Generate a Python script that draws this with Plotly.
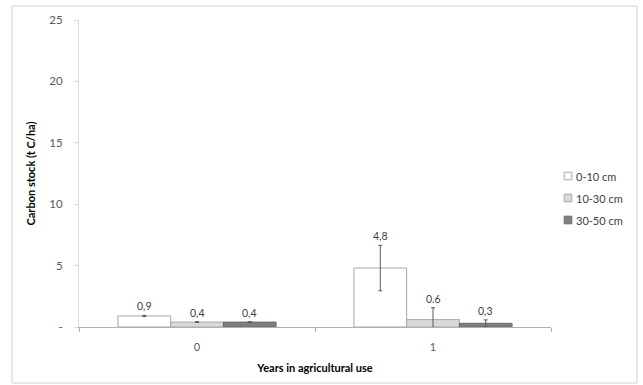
import plotly.graph_objects as go

# ---- data ----
categories = [0, 1]
category_labels = ["0", "1"]
series_names = ["0-10 cm", "10-30 cm", "30-50 cm"]
values_0_10 = [0.9, 4.8]
values_10_30 = [0.4, 0.6]
values_30_50 = [0.4, 0.3]
errors_0_10 = [0.05, 1.85]
errors_10_30 = [0.03, 0.97]
errors_30_50 = [0.03, 0.28]
labels_0_10 = ["0,9", "4,8"]
labels_10_30 = ["0,4", "0.6"]
labels_30_50 = ["0,4", "0,3"]
y_tick_values = [0, 5, 10, 15, 20, 25]
y_tick_labels = ["-", "5", "10", "15", "20", "25"]

values = [values_0_10, values_10_30, values_30_50]
errors = [errors_0_10, errors_10_30, errors_30_50]
labels = [labels_0_10, labels_10_30, labels_30_50]

FONT = "Lato, 'Open Sans', sans-serif"
fills = ["#ffffff", "#d9d9d9", "#7f7f7f"]
outlines = ["#a6a6a6", "#a6a6a6", "#6a6a6a"]
BARGAP = 0.33

fig = go.Figure()
for i, name in enumerate(series_names):
    fig.add_trace(go.Bar(
        x=categories, y=values[i], name=name, showlegend=False,
        marker=dict(color=fills[i], line=dict(color=outlines[i], width=1)),
        error_y=dict(type="data", array=errors[i], color="#595959",
                     thickness=1, width=2),
    ))

# data labels above error bars
bw = (1 - BARGAP) / len(series_names)
for i in range(len(series_names)):
    for j, c in enumerate(categories):
        fig.add_annotation(
            x=c + (i - 1) * bw, y=values[i][j] + errors[i][j],
            text=labels[i][j], showarrow=False, yanchor="bottom", yshift=1,
            font=dict(family=FONT, size=10.5, color="#404040"),
        )

# custom legend
leg_y = [176, 198, 220]
H = 307.0
for i, name in enumerate(series_names):
    yc = (327 - leg_y[i]) / H
    xc = (568 - 79) / 472.0
    hw = 3.8 / 472.0
    hh = 3.8 / H
    fig.add_shape(type="rect", xref="paper", yref="paper",
                  x0=xc - hw, x1=xc + hw, y0=yc - hh, y1=yc + hh,
                  fillcolor=fills[i], line=dict(color=outlines[i], width=1))
    fig.add_annotation(xref="paper", yref="paper", x=(574 - 79) / 472.0, y=yc,
                       text=name, showarrow=False, xanchor="left",
                       font=dict(family=FONT, size=11, color="#404040"))

# outer border
fig.add_shape(type="rect", xref="paper", yref="paper",
              x0=(12 - 79) / 472.0, x1=(637 - 79) / 472.0,
              y0=(327 - 383) / H, y1=(327 - 6) / H,
              line=dict(color="#d0d0d0", width=1), fillcolor="rgba(0,0,0,0)",
              layer="below")

fig.update_layout(
    width=643, height=385,
    margin=dict(l=79, r=92, t=20, b=58),
    paper_bgcolor="white", plot_bgcolor="white",
    barmode="group", bargap=BARGAP, bargroupgap=0,
    showlegend=False,
    font=dict(family=FONT, size=11, color="#595959"),
)
fig.update_xaxes(
    range=[-0.5, 1.5], tickvals=categories, ticktext=category_labels,
    ticks="", showline=True, linecolor="#b0b0b0", linewidth=1,
    showgrid=False, zeroline=False, ticklabelstandoff=10,
    tickfont=dict(family=FONT, size=11, color="#595959"),
    minor=dict(ticks="outside", tick0=-0.5, dtick=1, ticklen=4,
               tickcolor="#b0b0b0", showgrid=False),
    title=dict(text="<b>Years in agricultural use</b>", standoff=12,
               font=dict(family=FONT, size=11, color="#000000")),
)
fig.update_yaxes(
    range=[0, 25], tickvals=y_tick_values, ticktext=y_tick_labels,
    ticks="outside", ticklen=4, tickcolor="#d9d9d9",
    showline=True, linecolor="#d9d9d9", linewidth=1,
    showgrid=False, zeroline=False, ticklabelstandoff=9,
    tickfont=dict(family=FONT, size=11.5, color="#595959"),
    title=dict(text="<b>Carbon stock (t C/ha)</b>", standoff=11,
               font=dict(family=FONT, size=11, color="#000000")),
)

fig.write_html("out.html")
